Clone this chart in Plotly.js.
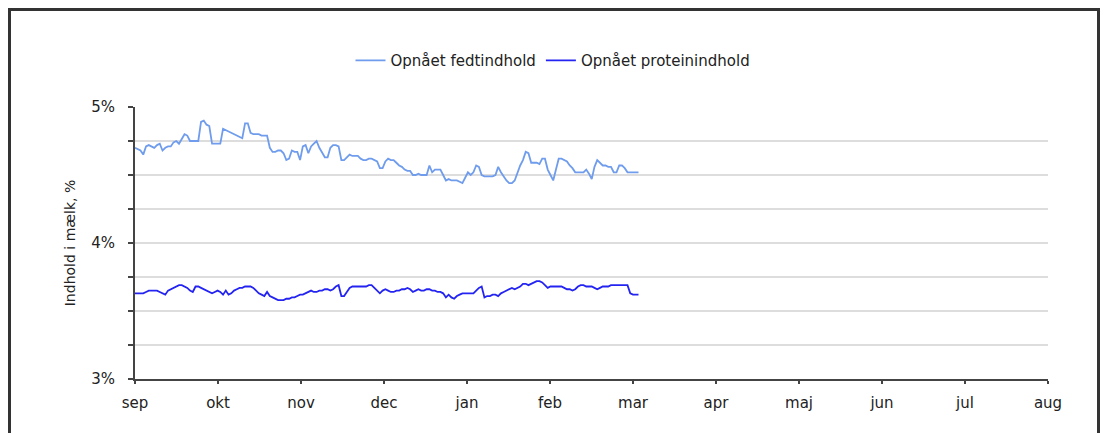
<!DOCTYPE html>
<html>
<head>
<meta charset="utf-8">
<script src="https://cdn.plot.ly/plotly-3.0.1.min.js"></script>
<style>
  body { margin: 0; background: #fff; }
  #chart { position: absolute; left: 0; top: 0; width: 1106px; height: 433px; }
  #frame { position: absolute; left: 8px; top: 8px; width: 1086px; height: 460px;
           border: 3px solid #333; pointer-events: none; }
</style>
</head>
<body>
<div id="chart"></div>
<div id="frame"></div>
<script>
// month labels (equal spacing on the axis)
const months = ["sep", "okt", "nov", "dec", "jan", "feb", "mar", "apr", "maj", "jun", "jul", "aug"];
const daysPerMonth = 181 / 6;

// daily readings from 1 sep, in percent
const fedt = [
  4.70, 4.69, 4.68, 4.65, 4.71, 4.72, 4.71, 4.70, 4.72, 4.73,
  4.68, 4.70, 4.71, 4.71, 4.74, 4.75, 4.73, 4.77, 4.80, 4.79,
  4.75, 4.75, 4.75, 4.75, 4.89, 4.90, 4.87, 4.86, 4.73, 4.73,
  4.73, 4.73, 4.84, 4.83, 4.82, 4.81, 4.80, 4.79, 4.78, 4.77,
  4.88, 4.88, 4.81, 4.80, 4.80, 4.80, 4.79, 4.79, 4.79, 4.70,
  4.67, 4.67, 4.68, 4.68, 4.66, 4.61, 4.62, 4.68, 4.67, 4.67,
  4.61, 4.71, 4.72, 4.66, 4.71, 4.73, 4.75, 4.70, 4.66, 4.63,
  4.63, 4.70, 4.72, 4.72, 4.71, 4.61, 4.61, 4.63, 4.65, 4.64,
  4.64, 4.64, 4.62, 4.61, 4.61, 4.62, 4.62, 4.61, 4.60, 4.55,
  4.55, 4.60, 4.62, 4.61, 4.61, 4.59, 4.57, 4.56, 4.54, 4.53,
  4.53, 4.50, 4.50, 4.51, 4.50, 4.50, 4.50, 4.57, 4.52, 4.54,
  4.54, 4.54, 4.50, 4.46, 4.47, 4.46, 4.46, 4.46, 4.45, 4.44,
  4.48, 4.52, 4.50, 4.52, 4.57, 4.56, 4.50, 4.49, 4.49, 4.49,
  4.49, 4.50, 4.56, 4.52, 4.49, 4.46, 4.44, 4.44, 4.46, 4.52,
  4.57, 4.61, 4.67, 4.66, 4.59, 4.59, 4.59, 4.58, 4.62, 4.62,
  4.54, 4.50, 4.46, 4.54, 4.62, 4.62, 4.61, 4.60, 4.57, 4.55,
  4.52, 4.52, 4.52, 4.52, 4.54, 4.51, 4.47, 4.56, 4.61, 4.59,
  4.57, 4.57, 4.56, 4.56, 4.52, 4.52, 4.57, 4.57, 4.55, 4.52,
  4.52, 4.52, 4.52, 4.52
];

const protein = [
  3.63, 3.63, 3.63, 3.63, 3.64, 3.65, 3.65, 3.65, 3.65, 3.64,
  3.63, 3.62, 3.65, 3.66, 3.67, 3.68, 3.69, 3.69, 3.68, 3.67,
  3.65, 3.64, 3.68, 3.68, 3.67, 3.66, 3.65, 3.64, 3.63, 3.64,
  3.65, 3.64, 3.62, 3.65, 3.62, 3.63, 3.65, 3.66, 3.67, 3.67,
  3.68, 3.68, 3.68, 3.67, 3.65, 3.63, 3.62, 3.61, 3.64, 3.61,
  3.60, 3.59, 3.58, 3.58, 3.58, 3.59, 3.59, 3.60, 3.60, 3.61,
  3.62, 3.62, 3.63, 3.64, 3.65, 3.64, 3.64, 3.65, 3.65, 3.66,
  3.66, 3.65, 3.66, 3.68, 3.69, 3.61, 3.61, 3.64, 3.67, 3.68,
  3.68, 3.68, 3.68, 3.68, 3.68, 3.69, 3.69, 3.67, 3.65, 3.63,
  3.65, 3.66, 3.65, 3.64, 3.64, 3.65, 3.65, 3.66, 3.66, 3.67,
  3.66, 3.64, 3.65, 3.66, 3.65, 3.65, 3.66, 3.66, 3.65, 3.65,
  3.64, 3.64, 3.63, 3.60, 3.62, 3.60, 3.59, 3.61, 3.62, 3.63,
  3.63, 3.63, 3.63, 3.63, 3.65, 3.67, 3.68, 3.60, 3.61, 3.61,
  3.62, 3.62, 3.61, 3.63, 3.64, 3.65, 3.66, 3.67, 3.66, 3.67,
  3.68, 3.70, 3.70, 3.69, 3.70, 3.71, 3.72, 3.72, 3.71, 3.69,
  3.67, 3.68, 3.68, 3.68, 3.68, 3.68, 3.67, 3.66, 3.66, 3.65,
  3.66, 3.68, 3.69, 3.69, 3.68, 3.68, 3.68, 3.67, 3.66, 3.67,
  3.68, 3.68, 3.68, 3.69, 3.69, 3.69, 3.69, 3.69, 3.69, 3.69,
  3.63, 3.62, 3.62, 3.62
];

const dage = fedt.map((v, i) => i);
const monthTicks = months.map((m, i) => i * daysPerMonth);

const yTicks = [3, 3.25, 3.5, 3.75, 4, 4.25, 4.5, 4.75, 5];
const yText = yTicks.map(v => Number.isInteger(v) ? v + "%" : "");

var traces = [
  {
    x: dage, y: fedt, name: "Opnået fedtindhold",
    type: "scatter", mode: "lines",
    line: { color: "#6f9cec", width: 1.8 }
  },
  {
    x: dage, y: protein, name: "Opnået proteinindhold",
    type: "scatter", mode: "lines",
    line: { color: "#2424f2", width: 1.8 }
  }
];

var layout = {
  width: 1106, height: 433,
  margin: { l: 135, r: 58, t: 107, b: 54 },
  paper_bgcolor: "#fff", plot_bgcolor: "#fff",
  font: { family: "DejaVu Sans, Verdana, sans-serif", size: 15, color: "#222" },
  showlegend: true,
  legend: {
    orientation: "h", xref: "container", yref: "container",
    x: 0.5, xanchor: "center", y: 0.86, yanchor: "middle",
    font: { size: 15 }, itemwidth: 30, tracegroupgap: 0
  },
  xaxis: {
    range: [0, 11 * daysPerMonth],
    tickvals: monthTicks, ticktext: months,
    showgrid: false, zeroline: false,
    showline: true, linecolor: "#444", linewidth: 2,
    ticks: "outside", ticklen: 3, tickcolor: "#444", tickwidth: 2,
    ticklabelstandoff: 6,
    fixedrange: true
  },
  yaxis: {
    range: [3, 5],
    tickvals: yTicks, ticktext: yText,
    showgrid: true, gridcolor: "#dddddd", gridwidth: 1.5,
    zeroline: false,
    showline: true, linecolor: "#444", linewidth: 2,
    ticks: "outside", ticklen: 5, tickcolor: "#444", tickwidth: 2,
    ticklabelstandoff: 10,
    title: { text: "Indhold i mælk, %", standoff: 12, font: { size: 14 } },
    fixedrange: true
  }
};

Plotly.newPlot("chart", traces, layout, { displayModeBar: false, staticPlot: true });
</script>
</body>
</html>
